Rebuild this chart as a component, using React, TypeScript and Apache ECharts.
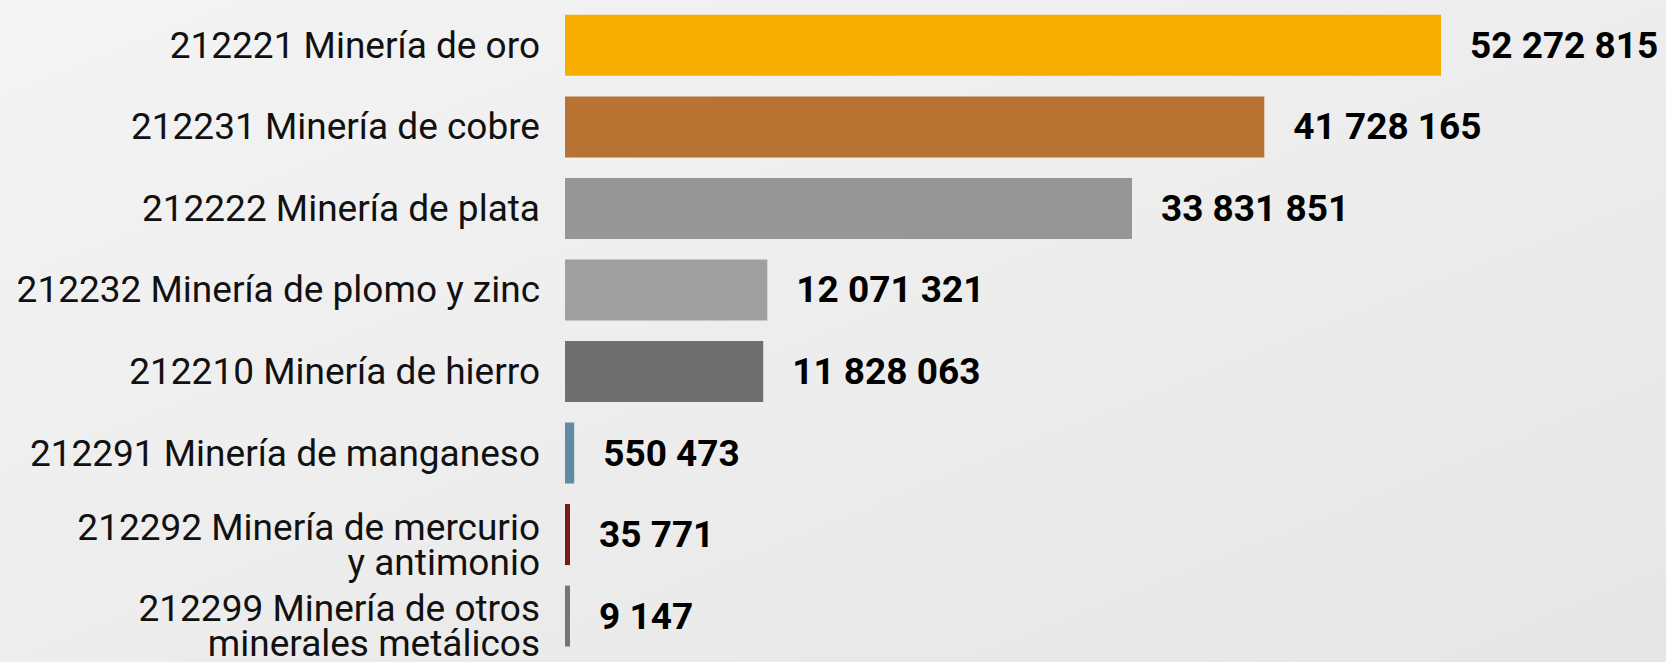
import React, { useEffect, useRef } from "react";
import * as echarts from "echarts";

const categories = [
  "212221 Minería de oro",
  "212231 Minería de cobre",
  "212222 Minería de plata",
  "212232 Minería de plomo y zinc",
  "212210 Minería de hierro",
  "212291 Minería de manganeso",
  "212292 Minería de mercurio\ny antimonio",
  "212299 Minería de otros\nminerales metálicos",
];
const values = [52272815, 41728165, 33831851, 12071321, 11828063, 550473, 35771, 9147];
const colors = ["#F7AD00", "#B87333", "#959695", "#A0A0A0", "#6E6F71", "#5F8CA3", "#7A1A12", "#757575"];

const fmt = (v: number) => String(v).replace(/\B(?=(\d{3})+(?!\d))/g, " ");

export default function App() {
  const ref = useRef<HTMLDivElement>(null);
  useEffect(() => {
    document.body.style.margin = "0";
    const chart = echarts.init(ref.current!, null, { renderer: "svg" });
    const cats = [...categories].reverse();
    const vals = [...values].reverse();
    const cols = [...colors].reverse();
    const txt = { color: "#111", fontFamily: "Roboto", fontSize: 37, lineHeight: 35 };
    chart.setOption({
      animation: false,
      backgroundColor: {
        type: "linear",
        x: 0,
        y: 0,
        x2: 1,
        y2: 1,
        colorStops: [
          { offset: 0, color: "#f4f4f4" },
          { offset: 1, color: "#e6e6e6" },
        ],
      },
      grid: { left: 565, top: 4.6, height: 653.7, right: 95.5, containLabel: false },
      xAxis: {
        type: "value",
        min: 0,
        max: 60000000,
        show: false,
      },
      yAxis: {
        type: "category",
        data: cats,
        axisLine: { show: false },
        axisTick: { show: false },
        axisLabel: {
          ...txt,
          interval: 0,
          hideOverlap: false,
          margin: 25,
          align: "right",
          formatter: (v: string) => {
            if (!v.includes("\n")) return v;
            const lines = v.split("\n");
            return `{s| }\n{m|${lines[0]}}\n{m|${lines[1]}}`;
          },
          rich: {
            s: { fontSize: 10, lineHeight: 20 },
            m: { ...txt },
          },
        },
      },
      series: [
        {
          type: "bar",
          barWidth: 61,
          barMinHeight: 5,
          data: vals.map((v, i) => ({ value: v, itemStyle: { color: cols[i] } })),
          label: {
            show: true,
            position: "right",
            distance: 29,
            color: "#000",
            fontFamily: "Roboto",
            fontWeight: "bold",
            fontSize: 37,
            formatter: (p: any) => fmt(p.value),
          },
        },
      ],
    });
    return () => chart.dispose();
  }, []);
  return <div ref={ref} style={{ width: 1666, height: 662 }} />;
}
